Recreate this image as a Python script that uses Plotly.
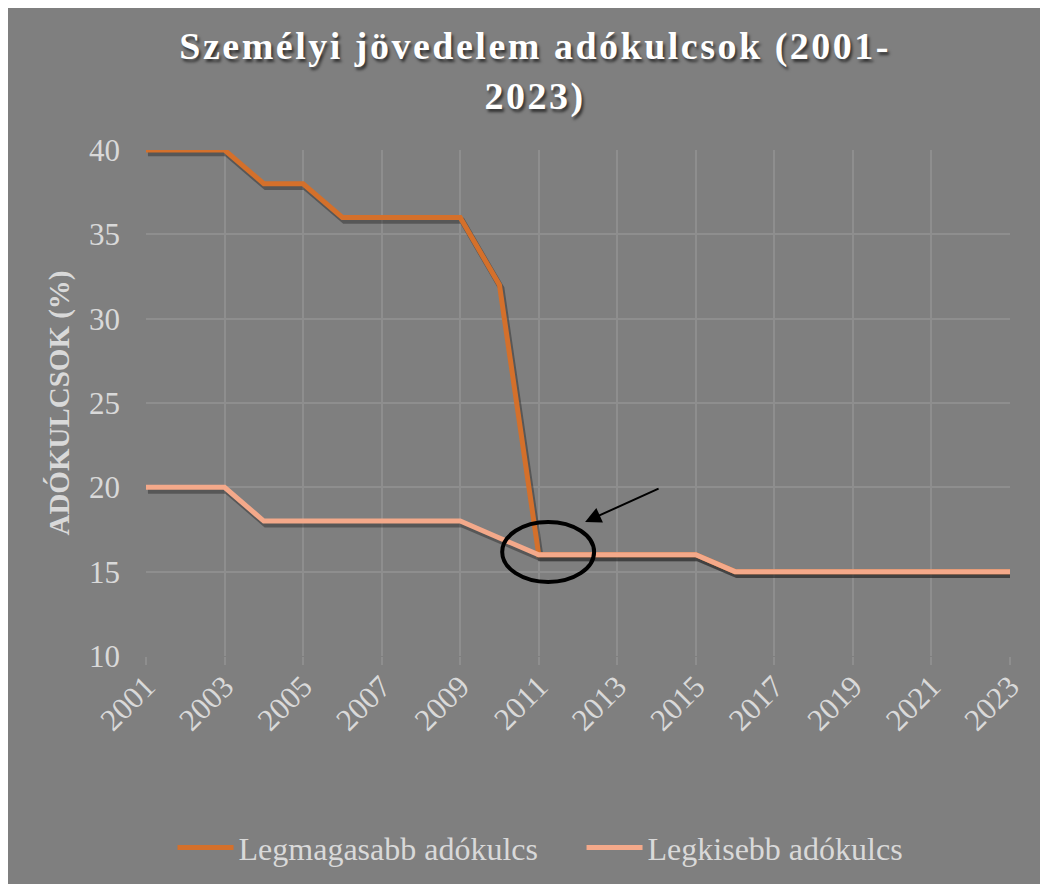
import plotly.graph_objects as go

years = list(range(2001, 2024))
legmagasabb = [40, 40, 40, 38, 38, 36, 36, 36, 36, 32, 16, 16, 16, 16, 16, 15, 15, 15, 15, 15, 15, 15, 15]
legkisebb = [20, 20, 20, 18, 18, 18, 18, 18, 18, 17, 16, 16, 16, 16, 16, 15, 15, 15, 15, 15, 15, 15, 15]
x_ticks = list(range(2001, 2024, 2))
y_ticks = [10, 15, 20, 25, 30, 35, 40]

BG = "#7f7f7f"
TXT = "#d9d9d9"
GRID = "#8e8e8e"
C_HIGH = "#d4702b"
C_LOW = "#f4a98a"
FONT = "Liberation Serif, Times New Roman, serif"

fig = go.Figure()

# soft shadows under the lines
for ys in (legmagasabb, legkisebb):
    fig.add_trace(go.Scatter(
        x=[v + 0.05 for v in years], y=[v - 0.2 for v in ys], mode="lines",
        line=dict(color="rgba(40,40,40,0.45)", width=6), showlegend=False, hoverinfo="skip"))

fig.add_trace(go.Scatter(x=years, y=legmagasabb, mode="lines", name="Legmagasabb adókulcs",
                         line=dict(color=C_HIGH, width=5)))
fig.add_trace(go.Scatter(x=years, y=legkisebb, mode="lines", name="Legkisebb adókulcs",
                         line=dict(color=C_LOW, width=5)))

# ellipse highlight and arrow
fig.add_shape(type="circle", xref="x", yref="y", x0=2010.07, x1=2012.41, y0=14.39, y1=17.95,
              line=dict(color="black", width=4))
fig.add_annotation(x=2012.18, y=17.95, ax=75, ay=-34, xref="x", yref="y", axref="pixel", ayref="pixel",
                   showarrow=True, arrowhead=2, arrowsize=1.6, arrowwidth=2, arrowcolor="black", text="")

title_txt = '<span style="letter-spacing:2.5px">Személyi jövedelem adókulcsok (2001-</span><br>' \
            '<span style="letter-spacing:2.5px">2023)</span>'

fig.update_layout(
    width=1048, height=884,
    paper_bgcolor=BG, plot_bgcolor=BG,
    margin=dict(l=138, r=46, t=142, b=236, autoexpand=False),
    title=dict(text=title_txt, x=0.503, xanchor="center",
               y=0.942, yanchor="middle",
               font=dict(family=FONT, size=38, color="white", weight="bold",
                         shadow="2px 3px 3px rgba(0,0,0,0.6)")),
    font=dict(family=FONT, color=TXT),
    showlegend=True,
    legend=dict(orientation="h", xref="container", yref="container",
                x=0.157, xanchor="left", y=0.05, yanchor="middle",
                font=dict(family=FONT, size=32, color=TXT), bgcolor="rgba(0,0,0,0)",
                itemwidth=56, entrywidth=338, entrywidthmode="pixels"),
    xaxis=dict(range=[2001, 2023], tickvals=x_ticks, ticktext=[str(v) for v in x_ticks],
               tickangle=-45, tickfont=dict(size=31, color=TXT, family=FONT),
               ticklabelstandoff=-9,
               showgrid=True, gridcolor=GRID, gridwidth=1.5, zeroline=False,
               ticks="outside", ticklen=8, tickcolor=GRID, tickwidth=1.5,
               showline=False, automargin=False),
    yaxis=dict(range=[10, 40], tickvals=y_ticks, tickfont=dict(size=31, color=TXT, family=FONT),
               showgrid=True, gridcolor=GRID, gridwidth=1.5, zeroline=False, ticks="",
               ticklabelstandoff=25, automargin=False,
               title=dict(text="ADÓKULCSOK (%)", standoff=10,
                          font=dict(family=FONT, size=29, color=TXT, weight="bold"))),
)

fig.write_html("out.html")
